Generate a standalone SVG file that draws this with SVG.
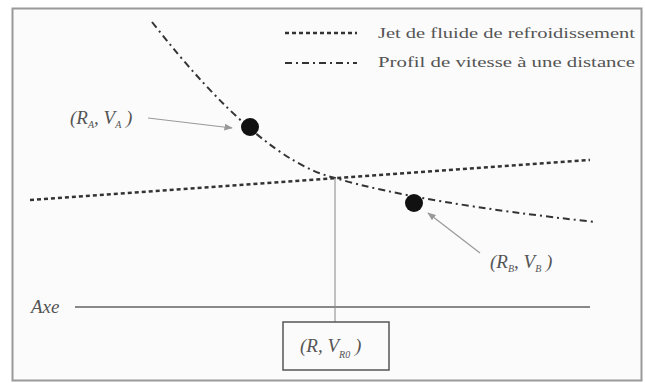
<svg xmlns="http://www.w3.org/2000/svg" width="645" height="383" viewBox="0 0 645 383">
<defs>
<style>
.t{font-family:"Liberation Serif",serif;font-size:14px;fill:#555}
.m{font-family:"Liberation Serif",serif;font-style:italic;font-size:19px;fill:#555}
.s{font-size:10px}
.jet{stroke:#333;stroke-width:2.5;stroke-dasharray:4 3;fill:none}
.prof{stroke:#333;stroke-width:2;stroke-dasharray:7 4 2 4;fill:none}
.thin{stroke:#999;stroke-width:1.2;fill:none}
</style>
<marker id="ah" viewBox="0 0 10 10" refX="9" refY="5" markerWidth="7" markerHeight="7" orient="auto"><path d="M0,1 L10,5 L0,9 z" fill="#999"/></marker>
</defs>
<rect x="0" y="0" width="645" height="383" fill="#fff"/>
<rect id="frame" x="12.5" y="8.5" width="629" height="372" fill="#fbfbfb" stroke="#999" stroke-width="2"/>
<g id="legend">
<line class="jet" x1="285" y1="33" x2="357" y2="33"/>
<text class="t" x="378" y="38" textLength="257" lengthAdjust="spacingAndGlyphs">Jet de fluide de refroidissement</text>
<line class="prof" x1="285" y1="63" x2="357" y2="63"/>
<text class="t" x="378" y="67" textLength="257" lengthAdjust="spacingAndGlyphs">Profil de vitesse à une distance</text>
</g>
<g id="connectors">
<path class="jet" d="M30,200 L590,160"/>
<path class="prof" d="M152,22 Q260,160 335,178 Q420,203 595,222"/>
<line class="thin" x1="335" y1="178" x2="335" y2="322"/>
<line x1="75" y1="307" x2="590" y2="307" stroke="#888" stroke-width="2"/>
<line class="thin" x1="148" y1="118" x2="232" y2="128" marker-end="url(#ah)"/>
<line class="thin" x1="480" y1="253" x2="428" y2="213" marker-end="url(#ah)"/>
</g>
<g id="pointA"><circle cx="250" cy="127" r="9" fill="#111"/></g>
<g id="pointB"><circle cx="414" cy="203" r="9" fill="#111"/></g>
<g id="labelA"><text class="m" x="70" y="124">(R<tspan class="s" dy="4">A</tspan><tspan dy="-4">,  V</tspan><tspan class="s" dy="4">A</tspan><tspan dy="-4">  )</tspan></text></g>
<g id="labelB"><text class="m" x="490" y="268">(R<tspan class="s" dy="4">B</tspan><tspan dy="-4">,  V</tspan><tspan class="s" dy="4">B</tspan><tspan dy="-4">  )</tspan></text></g>
<g id="axe"><text class="m" x="31" y="313">Axe</text></g>
<g id="boxR">
<rect x="283" y="322" width="106" height="48" fill="#fbfbfb" stroke="#555" stroke-width="1.5"/>
<text class="m" x="300" y="352" font-size="21">(R, V<tspan class="s" dy="6">R0</tspan><tspan dy="-6">  )</tspan></text>
</g>
</svg>
